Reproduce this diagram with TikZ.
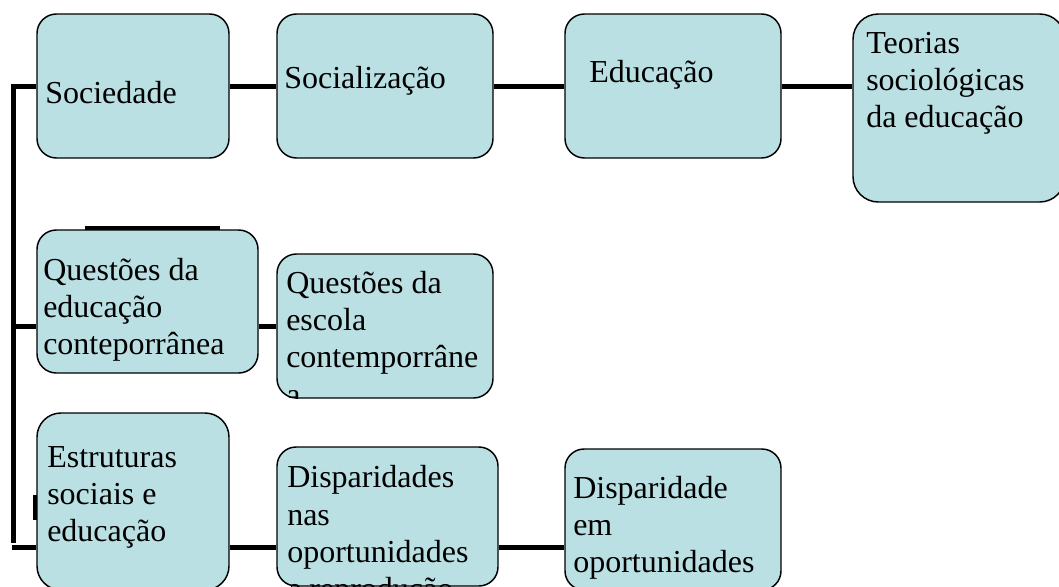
\documentclass[tikz,border=0pt]{standalone}
\usepackage{fontspec}
\setmainfont{Liberation Serif}
\definecolor{boxfill}{HTML}{BAE0E3}
\tikzset{
  box/.style={draw=black, line width=1.1pt, fill=boxfill, inner sep=0pt, rectangle},
  txt/.style={anchor=north west, inner sep=0pt, align=left, font=\fontsize{24pt}{28pt}\selectfont},
  conn/.style={draw=black, line width=3.75pt},
  bar/.style={draw=black, line width=3pt}
}
\newcommand{\sln}[1]{\strut #1}
\begin{document}
\begin{tikzpicture}[x=0.75pt,y=-0.75pt]
\useasboundingbox (0,0) rectangle (1059,586);
\clip (0,0) rectangle (1059,586);
% boxes
\node[box, rounded corners=14.6pt, minimum width=144pt, minimum height=108pt] (b1) at (133,86) {};
\node[box, rounded corners=14.6pt, minimum width=162pt, minimum height=108pt] (b2) at (385,86) {};
\node[box, rounded corners=14.6pt, minimum width=162pt, minimum height=108pt] (b3) at (673,86) {};
\node[box, rounded corners=19pt, minimum width=159pt, minimum height=141pt] (b4) at (959,108) {};
\node[box, rounded corners=14.5pt, minimum width=165.75pt, minimum height=107.25pt] (b5) at (147.5,301.5) {};
\node[box, rounded corners=14.6pt, minimum width=162pt, minimum height=108pt] (b6) at (385,326) {};
\node[box, rounded corners=18pt, minimum width=144pt, minimum height=132.75pt] (b7) at (133,501.5) {};
\node[box, rounded corners=14.3pt, minimum width=165.75pt, minimum height=104.25pt] (b8) at (387.5,516.5) {};
\node[box, rounded corners=14.3pt, minimum width=162pt, minimum height=105.75pt] (b9) at (673,519.5) {};
% texts
\node[txt] (t1) at (45,76.9) {\sln{Sociedade}};
\node[txt] (t2) at (284,61.9) {\sln{Socialização}};
\node[txt] (t3) at (589,55.9) {\sln{Educação}};
\node[txt] (t4) at (866,26.9) {\sln{Teorias}\\\sln{sociológicas}\\\sln{da educação}};
\node[txt] (t5) at (43,253.9) {\sln{Questões da}\\\sln{educação}\\\sln{conteporrânea}};
\begin{scope}
\clip[rounded corners=14.6pt] (b6.south west) rectangle (b6.north east);
\node[txt] (t6) at (286,266.9) {\sln{Questões da}\\\sln{escola}\\\sln{contemporrâne}\\\sln{a}};
\end{scope}
\node[txt] (t7) at (47,440.9) {\sln{Estruturas}\\\sln{sociais e}\\\sln{educação}};
\begin{scope}
\clip[rounded corners=14.3pt] (b8.south west) rectangle (b8.north east);
\node[txt] (t8) at (287,461.4) {\sln{Disparidades}\\\sln{nas}\\\sln{oportunidades}\\\sln{e reprodução}};
\end{scope}
\node[txt] (t9) at (573,471.9) {\sln{Disparidade}\\\sln{em}\\\sln{oportunidades}};
% connectors
\coordinate (spineEnd) at (13,543);
\coordinate (midL) at (13,326);
\coordinate (botL) at (12,547);
\coordinate (topBarA) at (85,228);
\coordinate (topBarB) at (220,228);
\coordinate (shortA) at (35,495);
\coordinate (shortB) at (35,520);
\draw[conn] (b1.east) -- (b2.west);
\draw[conn] (b2.east) -- (b3.west);
\draw[conn] (b3.east) -- (b3.east -| b4.west);
\draw[conn] (b1.west) -| (spineEnd);
\draw[conn] (midL) -- (midL -| b5.west);
\draw[conn] (b6.west) -- (b6.west -| b5.east);
\draw[conn] (botL) -- (botL -| b7.west);
\draw[conn] (botL -| b7.east) -- (botL -| b8.west);
\draw[conn] (botL -| b8.east) -- (botL -| b9.west);
\draw[bar] (topBarA) -- (topBarB);
\draw[bar] (shortA) -- (shortB);
\end{tikzpicture}
\end{document}
